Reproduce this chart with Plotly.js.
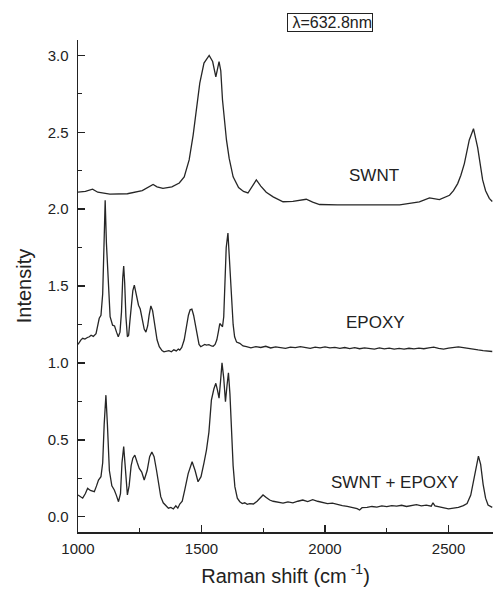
<!DOCTYPE html>
<html>
<head>
<meta charset="utf-8">
<script src="https://cdn.plot.ly/plotly-3.0.1.min.js"></script>
<style>html,body{margin:0;padding:0;background:#fff;}#chart{width:493px;height:591px;}</style>
</head>
<body>
<div id="chart"></div>
<script>
// SWNT spectrum
const swntX = [1000,1030,1059,1080,1129,1200,1260,1290,1304,1320,1344,1380,1410,1430,1450,1466,1480,1493,1510,1531,1545,1558,1571,1578,1585,1593,1601,1612,1628,1650,1670,1688,1705,1722,1740,1762,1790,1830,1870,1900,1924,1950,1978,2050,2167,2302,2382,2423,2463,2504,2520,2537,2550,2564,2584,2601,2618,2638,2650,2665,2677];
const swntY = [2.11,2.115,2.13,2.11,2.097,2.10,2.12,2.15,2.16,2.145,2.135,2.145,2.17,2.21,2.32,2.48,2.66,2.82,2.95,3.0,2.96,2.86,2.96,2.9,2.71,2.57,2.45,2.33,2.21,2.14,2.115,2.105,2.15,2.19,2.15,2.11,2.08,2.048,2.05,2.058,2.064,2.045,2.03,2.027,2.027,2.027,2.047,2.073,2.062,2.09,2.12,2.166,2.22,2.296,2.45,2.523,2.40,2.19,2.12,2.07,2.05];

// EPOXY spectrum
const epoxyX = [1000,1005,1012,1019,1028,1038,1046,1053,1062,1073,1080,1086,1093,1100,1105,1110,1115,1122,1130,1140,1148,1156,1163,1170,1176,1181,1185,1189,1194,1200,1205,1210,1216,1222,1228,1234,1240,1245,1252,1260,1268,1275,1282,1288,1295,1302,1310,1320,1329,1340,1348,1358,1368,1378,1388,1398,1406,1412,1420,1430,1439,1447,1454,1461,1468,1475,1482,1490,1497,1505,1513,1520,1530,1540,1547,1555,1562,1568,1574,1580,1585,1590,1595,1600,1607,1613,1621,1628,1634,1642,1655,1668,1682,1700,1720,1740,1760,1780,1800,1820,1840,1860,1880,1900,1920,1940,1960,1980,2000,2020,2040,2060,2080,2100,2120,2140,2160,2180,2200,2220,2240,2260,2280,2300,2320,2340,2360,2380,2400,2420,2440,2460,2480,2500,2520,2540,2560,2580,2600,2620,2640,2660,2677];
const epoxyY = [1.12,1.137,1.15,1.16,1.155,1.165,1.17,1.18,1.172,1.19,1.25,1.29,1.31,1.45,1.75,2.058,1.78,1.5,1.3,1.245,1.24,1.2,1.17,1.2,1.33,1.55,1.63,1.52,1.3,1.17,1.18,1.27,1.4,1.47,1.505,1.46,1.41,1.375,1.35,1.29,1.22,1.20,1.24,1.31,1.37,1.34,1.25,1.15,1.105,1.08,1.072,1.075,1.08,1.072,1.085,1.078,1.09,1.083,1.1,1.15,1.235,1.31,1.345,1.35,1.31,1.24,1.17,1.12,1.105,1.11,1.12,1.115,1.118,1.11,1.108,1.12,1.15,1.2,1.256,1.245,1.235,1.30,1.54,1.75,1.845,1.68,1.43,1.25,1.17,1.135,1.127,1.11,1.105,1.098,1.105,1.1,1.108,1.097,1.104,1.1,1.095,1.103,1.099,1.106,1.1,1.094,1.102,1.098,1.104,1.097,1.101,1.095,1.1,1.093,1.099,1.092,1.098,1.094,1.09,1.097,1.091,1.096,1.09,1.094,1.089,1.095,1.091,1.096,1.092,1.098,1.102,1.094,1.09,1.096,1.1,1.104,1.099,1.093,1.087,1.084,1.08,1.078,1.074];

// SWNT + EPOXY spectrum
const mixX = [1000,1010,1019,1030,1039,1050,1058,1066,1075,1083,1093,1100,1106,1113,1119,1127,1137,1147,1155,1164,1172,1178,1185,1191,1200,1207,1215,1222,1230,1240,1248,1258,1268,1280,1290,1299,1308,1318,1335,1345,1356,1366,1376,1386,1396,1404,1412,1422,1432,1446,1462,1474,1486,1498,1510,1520,1530,1540,1550,1558,1565,1571,1577,1583,1590,1597,1603,1609,1615,1621,1628,1635,1645,1655,1665,1675,1685,1695,1710,1725,1737,1749,1762,1776,1790,1810,1830,1850,1870,1890,1910,1930,1950,1970,1990,2010,2030,2050,2070,2090,2110,2130,2140,2150,2170,2190,2210,2230,2250,2270,2290,2310,2330,2350,2370,2390,2410,2430,2437,2445,2460,2480,2500,2520,2540,2560,2575,2590,2600,2610,2621,2630,2640,2650,2660,2677];
const mixY = [0.141,0.13,0.12,0.15,0.184,0.17,0.165,0.162,0.2,0.238,0.26,0.35,0.6,0.79,0.6,0.3,0.2,0.173,0.14,0.097,0.15,0.35,0.455,0.3,0.141,0.2,0.33,0.38,0.40,0.35,0.314,0.29,0.238,0.3,0.39,0.42,0.39,0.3,0.13,0.09,0.07,0.055,0.06,0.05,0.07,0.055,0.082,0.1,0.173,0.28,0.357,0.3,0.227,0.26,0.35,0.433,0.55,0.758,0.83,0.867,0.82,0.77,0.88,1.0,0.9,0.747,0.85,0.936,0.8,0.54,0.33,0.195,0.12,0.097,0.085,0.09,0.08,0.085,0.082,0.1,0.12,0.141,0.125,0.108,0.1,0.095,0.088,0.096,0.09,0.1,0.108,0.098,0.11,0.1,0.092,0.085,0.088,0.078,0.072,0.066,0.06,0.052,0.043,0.058,0.06,0.066,0.062,0.07,0.065,0.072,0.068,0.074,0.066,0.072,0.078,0.07,0.075,0.068,0.09,0.07,0.065,0.058,0.05,0.055,0.06,0.072,0.085,0.14,0.22,0.32,0.394,0.34,0.21,0.12,0.075,0.06];

// labels
const seriesNames = ["SWNT","EPOXY","SWNT + EPOXY"];
const labelX = [2200,2205,2285];
const labelY = [2.22,1.265,0.225];
const xTickVals = [1000,1500,2000,2500];
const yTickVals = [0,0.5,1,1.5,2,2.5,3];

const lineStyle = {color:'#262626', width:1.3};
const traces = [
  {x: swntX, y: swntY, name: seriesNames[0], mode:'lines', line: lineStyle},
  {x: epoxyX, y: epoxyY, name: seriesNames[1], mode:'lines', line: lineStyle},
  {x: mixX, y: mixY, name: seriesNames[2], mode:'lines', line: lineStyle}
];

const fontFam = '"Liberation Sans", Arial, sans-serif';
const annotations = seriesNames.map((n,i)=>({
  x: labelX[i], y: labelY[i], xref:'x', yref:'y', text:n, showarrow:false,
  font:{family:fontFam, size:17, color:'#222'}
}));
annotations.push({
  x: 0.607, y: 1.0346, xref:'paper', yref:'paper', xanchor:'center', yanchor:'middle',
  text:'&nbsp;λ=632.8nm', showarrow:false,
  font:{family:fontFam, size:16, color:'#222'}, bordercolor:'#222', borderwidth:1, borderpad:0, bgcolor:'#fff'
});

const layout = {
  width:493, height:591,
  margin:{l:78, r:0, t:40, b:59},
  paper_bgcolor:'#fff', plot_bgcolor:'#fff',
  showlegend:false,
  font:{family:fontFam, color:'#222'},
  xaxis:{
    range:[1000,2680], tickvals:xTickVals, ticktext:xTickVals.map(String),
    ticks:'inside', ticklen:7, tickwidth:1.5, tickcolor:'#222',
    minor:{dtick:250, tick0:1000, ticks:'inside', ticklen:4, tickwidth:1.2, tickcolor:'#222'},
    showline:true, linecolor:'#222', linewidth:1.5, showgrid:false, zeroline:false,
    tickfont:{size:15, family:fontFam, color:'#222'},
    ticklabelstandoff:2,
    title:{text:'Raman shift (cm<sup> -1</sup>)', font:{size:20, family:fontFam, color:'#222'}, standoff:13}
  },
  yaxis:{
    range:[-0.1,3.1], tickvals:yTickVals, ticktext:yTickVals.map(v=>v.toFixed(1)),
    ticks:'inside', ticklen:7, tickwidth:1.5, tickcolor:'#222',
    minor:{dtick:0.25, tick0:0, ticks:'inside', ticklen:4, tickwidth:1.2, tickcolor:'#222'},
    showline:true, linecolor:'#222', linewidth:1.5, showgrid:false, zeroline:false,
    tickfont:{size:15, family:fontFam, color:'#222'},
    ticklabelstandoff:5,
    title:{text:'Intensity', font:{size:20, family:fontFam, color:'#222'}, standoff:10}
  },
  annotations: annotations
};

Plotly.newPlot('chart', traces, layout, {displayModeBar:false, staticPlot:true});
</script>
</body>
</html>
